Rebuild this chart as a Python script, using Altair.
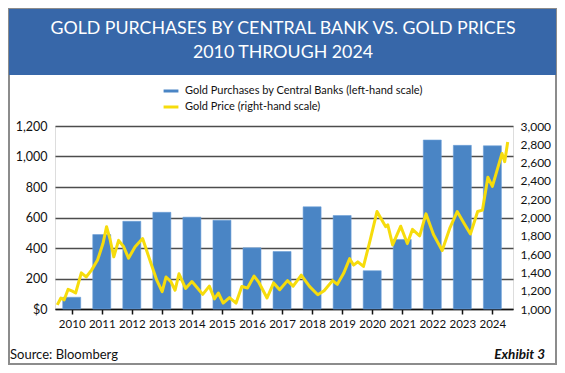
import altair as alt
import pandas as pd

# ---- data ----
years = list(range(2010, 2025))
purchases = [77, 488, 575, 634, 602, 582, 401, 377, 670, 613, 251, 456, 1108, 1073, 1070]

price_t = [2009.52, 2009.64, 2009.75, 2009.88, 2010.02, 2010.13, 2010.32, 2010.48, 2010.66, 2010.86,
           2011.04, 2011.16, 2011.27, 2011.40, 2011.56, 2011.73, 2011.89, 2012.11, 2012.36, 2012.60,
           2012.83, 2013.01, 2013.14, 2013.30, 2013.44, 2013.57, 2013.79, 2014.00, 2014.17, 2014.36,
           2014.58, 2014.75, 2014.88, 2015.04, 2015.25, 2015.47, 2015.66, 2015.85, 2016.07, 2016.23,
           2016.50, 2016.72, 2016.92, 2017.18, 2017.37, 2017.64, 2017.92, 2018.19, 2018.40, 2018.68,
           2018.84, 2019.05, 2019.25, 2019.38, 2019.52, 2019.71, 2019.93, 2020.16, 2020.45, 2020.52,
           2020.68, 2020.95, 2021.17, 2021.34, 2021.58, 2021.79, 2022.04, 2022.33, 2022.58, 2022.83,
           2023.07, 2023.27, 2023.51, 2023.67, 2023.85, 2024.00, 2024.32, 2024.41, 2024.51]
price_v = [1045, 1120, 1100, 1215, 1195, 1175, 1395, 1350, 1425, 1535,
           1715, 1900, 1770, 1570, 1750, 1680, 1555, 1680, 1770, 1535,
           1315, 1190, 1350, 1300, 1205, 1385, 1225, 1300, 1235, 1160,
           1250, 1110, 1175, 1065, 1125, 1065, 1245, 1230, 1360, 1290,
           1120, 1285, 1210, 1310, 1250, 1370, 1245, 1155, 1200, 1310,
           1270, 1390, 1550, 1480, 1515, 1465, 1750, 2065, 1900, 1920,
           1700, 1905, 1715, 1870, 1800, 2040, 1815, 1640, 1880, 2065,
           1930, 1820, 2065, 2080, 2440, 2340, 2700, 2610, 2825]

left_ticks = [0, 200, 400, 600, 800, 1000, 1200]
right_ticks = [1000, 1200, 1400, 1600, 1800, 2000, 2200, 2400, 2600, 2800, 3000]

bar_label = "Gold Purchases by Central Banks (left-hand scale)"
line_label = "Gold Price (right-hand scale)"
title_lines = ["GOLD PURCHASES BY CENTRAL BANK VS. GOLD PRICES", "2010 THROUGH 2024"]
source_text = "Source: Bloomberg"
exhibit_text = "Exhibit 3"

# ---- style ----
FONT = "Lato"
BLUE = "#4a85c5"
GOLD = "#f6dc0c"
BANNER = "#3767a9"
W, H = 458, 183

bars_df = pd.DataFrame({"year": years, "value": purchases})
price_df = pd.DataFrame({"year": price_t, "price": price_v, "series": line_label})
one = pd.DataFrame({"k": [0]})

xscale = alt.Scale(domain=[2009.61, 2024.52], nice=False, zero=False)
xaxis = alt.Axis(values=years, format="d", title=None, grid=False, tickSize=5, tickWidth=1.5,
                 tickColor="#111", domainColor="#111", domainWidth=1.5, labelFontSize=11.5,
                 labelPadding=4, labelColor="#111", labelFont=FONT, labelFlush=False)

frame = alt.Chart(one).mark_rect(filled=False, stroke="#8c8c8c", strokeWidth=2).encode(
    x=alt.value(-46), x2=alt.value(501), y=alt.value(-117), y2=alt.value(238))
banner = alt.Chart(one).mark_rect(color=BANNER).encode(
    x=alt.value(-46), x2=alt.value(501), y=alt.value(-117), y2=alt.value(-51))

bars = alt.Chart(bars_df).mark_bar(size=18, color=BLUE, stroke="#6b9fd8", strokeWidth=0.6).encode(
    x=alt.X("year:Q", scale=xscale, axis=xaxis),
    y=alt.Y("value:Q", scale=alt.Scale(domain=[0, 1200], nice=False),
            axis=alt.Axis(values=left_ticks, title=None, ticks=False, domain=False,
                          labelExpr="datum.value == 0 ? '$0' : format(datum.value, ',')",
                          gridColor="#4d4d4d", gridWidth=1.5, labelFontSize=12.5,
                          labelPadding=8, labelColor="#111", labelFont=FONT)),
)

line = alt.Chart(price_df).mark_line(strokeWidth=3, strokeJoin="round").encode(
    x=alt.X("year:Q", scale=xscale, axis=xaxis),
    y=alt.Y("price:Q", scale=alt.Scale(domain=[1000, 3000], nice=False, zero=False),
            axis=alt.Axis(orient="right", values=right_ticks, format=",d", title=None, grid=False,
                          ticks=False, domain=False, labelFontSize=12, labelPadding=7,
                          labelColor="#111", labelFont=FONT)),
    color=alt.Color("series:N",
                    scale=alt.Scale(domain=[bar_label, line_label], range=[BLUE, GOLD]),
                    legend=alt.Legend(orient="none", legendX=107, legendY=-44, direction="vertical",
                                      title=None, symbolType="stroke", symbolStrokeWidth=3,
                                      symbolSize=220, rowPadding=1, labelFontSize=11,
                                      labelColor="#111", labelFont=FONT, labelOffset=5,
                                      labelLimit=400)),
)

t1 = alt.Chart(one).mark_text(text=title_lines[0], font=FONT, fontSize=17.8, color="white",
                              align="center", baseline="middle").encode(
    x=alt.value(228), y=alt.value(-97))
t2 = alt.Chart(one).mark_text(text=title_lines[1], font=FONT, fontSize=17.8, color="white",
                              align="center", baseline="middle").encode(
    x=alt.value(228), y=alt.value(-73))
src = alt.Chart(one).mark_text(text=source_text, font=FONT, fontSize=13, color="#111",
                               align="left", baseline="middle").encode(
    x=alt.value(-45), y=alt.value(229))
exh = alt.Chart(one).mark_text(text=exhibit_text, font=FONT, fontSize=13.5, color="#111",
                               fontStyle="italic", fontWeight="bold",
                               align="right", baseline="middle").encode(
    x=alt.value(490), y=alt.value(229))

chart = alt.layer(frame, banner, bars, line, t1, t2, src, exh).resolve_scale(
    y="independent"
).properties(
    width=W, height=H,
    padding={"left": 47, "top": 118, "right": 44, "bottom": 56},
    autosize=alt.AutoSizeParams(type="none"),
    background="white",
).configure_view(stroke=None).configure(font=FONT)

chart.save("out.html", embed_options={"renderer": "svg", "actions": False})
